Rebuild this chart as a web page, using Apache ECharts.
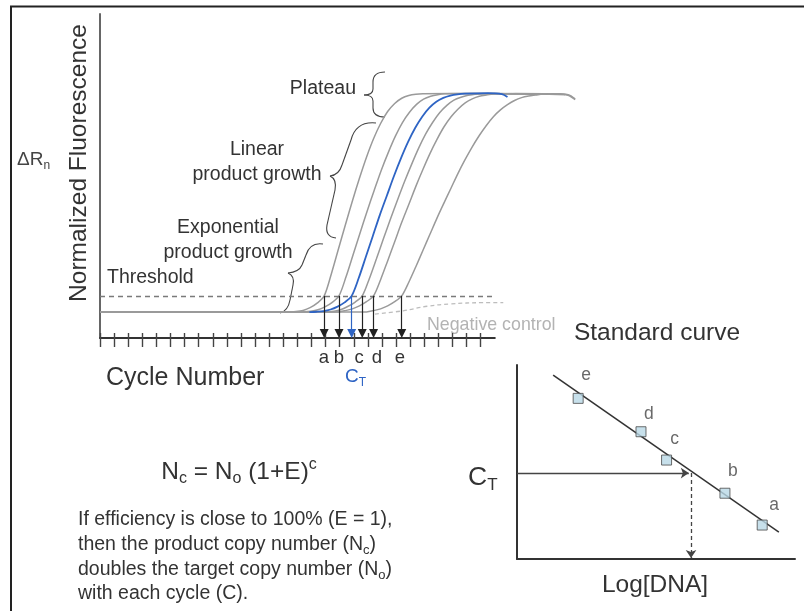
<!DOCTYPE html>
<html>
<head>
<meta charset="utf-8">
<script src="https://cdn.jsdelivr.net/npm/echarts@6/dist/echarts.min.js"></script>
<style>
  html, body { margin: 0; padding: 0; background: #fff; }
  #chart { width: 804px; height: 611px; }
</style>
</head>
<body>
<div id="chart"></div>
<script>
// ---------- amplification plot data (cycle number, normalized fluorescence ΔRn) ----------
const curveA = [[0,8],[12.9,8],[13.4,8.05],[13.9,8.15],[14.4,8.5],[14.9,9.35],[15.4,10.75],[15.9,13],[16.4,19.7],[16.9,27.3],[17.4,34.9],[17.9,42.3],[18.4,49.3],[18.9,55.8],[19.4,61.5],[19.9,66.2],[20.4,69.9],[20.9,72.4],[21.4,74],[21.9,74.85],[22.4,75.25],[22.9,75.4],[25,75.5],[28,75.4],[31,75.2]];
const curveB = [[0,8],[13.95,8],[14.45,8.07],[14.95,8.26],[15.45,8.7],[15.95,9.6],[16.45,10.9],[16.95,13],[17.45,18.9],[17.95,25.7],[18.45,32.5],[18.95,39.2],[19.45,45.6],[19.95,51.8],[20.45,57.3],[20.95,62.3],[21.45,66.5],[21.95,69.7],[22.45,72.1],[22.95,73.7],[23.45,74.6],[23.95,75.1],[24.45,75.35],[26.5,75.5],[29,75.4],[32,75.2]];
const curveCt = [[14.85,8],[15.35,8.1],[15.85,8.3],[16.35,8.8],[16.85,9.7],[17.35,11],[17.85,13],[18.35,18.5],[18.85,25],[19.35,31.5],[19.85,38],[20.35,44],[20.85,50],[21.35,55.5],[21.85,60.5],[22.35,64.8],[22.85,68.3],[23.35,71],[23.85,72.9],[24.35,74.1],[24.85,74.8],[25.35,75.2],[25.85,75.4],[27.5,75.6],[28.5,75.3],[28.9,74.4]];
const curveC = [[0,8],[15.6,8],[16.1,8.05],[16.6,8.25],[17.1,8.8],[17.6,9.8],[18.1,11.1],[18.6,13],[19.1,18.3],[19.6,24.4],[20.1,30.6],[20.6,36.7],[21.1,42.6],[21.6,48.3],[22.1,53.6],[22.6,58.6],[23.1,63],[23.6,66.6],[24.1,69.6],[24.6,71.8],[25.1,73.4],[25.6,74.3],[26.1,74.9],[26.6,75.25],[28,75.5],[30,75.4],[33,75.1]];
const curveD = [[0,8],[16.4,8],[16.9,8.05],[17.4,8.45],[17.9,9],[18.4,9.9],[18.9,11.2],[19.4,13],[19.9,18],[20.4,23.8],[20.9,29.7],[21.4,35.7],[21.9,41.2],[22.4,46.8],[22.9,52],[23.4,56.9],[23.9,61.3],[24.4,65.2],[24.9,68.3],[25.4,70.7],[25.9,72.6],[26.4,73.8],[26.9,74.6],[27.4,75],[27.9,75.3],[29.5,75.5],[32,75.4],[33.2,75.1],[33.7,73.8]];
const curveE = [[0,8],[18.4,8],[18.9,8.05],[19.4,8.45],[19.9,9],[20.4,9.9],[20.9,11.2],[21.4,13],[21.9,17.2],[22.4,22],[22.9,27],[23.4,32],[23.9,37],[24.4,41.7],[24.9,46.3],[25.4,50.9],[25.9,55.1],[26.4,59],[26.9,62.5],[27.4,65.6],[27.9,68.3],[28.4,70.4],[28.9,72],[29.4,73.3],[29.9,74.2],[30.4,74.7],[30.9,75],[31.4,75.3],[32.6,75.4],[33.2,74.9],[33.7,73.6]];
const negativeControl = [[19.5,7.4],[21.5,8.4],[23.2,9.8],[24.8,10.5],[27.2,10.9],[28.6,10.9]];

const threshold = 13;
const thresholdEnd = 27.8;
const ctNames = ['a', 'b', 'c', 'd', 'e'];
const ctCycles = [15.9, 16.95, 18.6, 19.4, 21.4];
const ctBlue = 17.85;
const arrowTip = 1.4;
const cycleTicks = [0,1,2,3,4,5,6,7,8,9,10,11,12,13,14,15,16,17,18,19,20,21,22,23,24,25,26,27];

// ---------- standard curve data (Log[DNA], CT) ----------
const stdNames = ['a', 'b', 'c', 'd', 'e'];
const stdLogDna = [8.82, 7.48, 5.38, 4.46, 2.2];
const stdCt = [1.75, 3.39, 5.1, 6.56, 8.28];
const stdFit = [[1.3, 9.48], [9.42, 1.39]];
const unknownCt = 4.43;
const unknownLogDna = 6.26;

// ---------- styling ----------
const FONT = '"Liberation Sans", Arial, Helvetica, sans-serif';
const GRAY = '#9a9a9a';
const BLUE = '#2e64c4';
const PX_PER_CYCLE = 14.1;
const labelOffsets = { a: [12, 0], b: [8, -3], c: [8, -1], d: [8, 2], e: [8, -4] };

function grayCurve(data) {
  return {
    type: 'line', xAxisIndex: 0, yAxisIndex: 0, data: data,
    smooth: 0.3, showSymbol: false, silent: true,
    lineStyle: { color: GRAY, width: 1.5 }, z: 3
  };
}

// Curly brace outline built from "M x,y Q cx,cy x,y L x,y ..." commands,
// drawn with quadratic bezier and straight line graphic elements.
function brace(cmd) {
  const tok = cmd.replace(/([MLQ])/g, ' $1 ').replace(/,/g, ' ').trim().split(/\s+/);
  const parts = [];
  let i = 0, cx = 0, cy = 0;
  const stroke = { stroke: '#444', lineWidth: 1.1, fill: null };
  while (i < tok.length) {
    const c = tok[i++];
    if (c === 'M') { cx = +tok[i++]; cy = +tok[i++]; }
    else if (c === 'L') {
      const x = +tok[i++], y = +tok[i++];
      parts.push({ type: 'line', silent: true, shape: { x1: cx, y1: cy, x2: x, y2: y }, style: stroke });
      cx = x; cy = y;
    } else if (c === 'Q') {
      const qx = +tok[i++], qy = +tok[i++], x = +tok[i++], y = +tok[i++];
      parts.push({ type: 'bezierCurve', silent: true,
        shape: { x1: cx, y1: cy, cpx1: qx, cpy1: qy, x2: x, y2: y }, style: stroke });
      cx = x; cy = y;
    }
  }
  return parts;
}

const arrowPairs = ctCycles.map(function (c) {
  return [{ coord: [c, threshold] }, { coord: [c, arrowTip] }];
});
arrowPairs.push([
  { coord: [ctBlue, threshold], lineStyle: { color: BLUE } },
  { coord: [ctBlue, arrowTip], itemStyle: { color: BLUE }, lineStyle: { color: BLUE } }
]);

const chart = echarts.init(document.getElementById('chart'), null, { renderer: 'canvas' });

const txt = function (text, x, y, size, opts) {
  opts = opts || {};
  return {
    type: 'text', x: x, y: y, silent: true, rotation: opts.rotation || 0,
    style: Object.assign({
      text: text, fontSize: size, fontFamily: FONT, fill: opts.fill || '#333',
      align: opts.align || 'left', verticalAlign: 'middle'
    }, opts.style || {})
  };
};

// rich-text pieces: normal, subscript, superscript
function richStyle(size, color, lh) {
  return {
    n: { fontSize: size, fontFamily: FONT, fill: color, lineHeight: lh },
    s: { fontSize: Math.round(size * 0.65), fontFamily: FONT, fill: color, lineHeight: Math.round(lh * 0.38), verticalAlign: 'bottom' },
    p: { fontSize: Math.round(size * 0.65), fontFamily: FONT, fill: color, lineHeight: Math.round(lh * 0.38), verticalAlign: 'top' }
  };
}

const graphics = [
  // frame
  { type: 'line', silent: true, shape: { x1: 10, y1: 6.5, x2: 804, y2: 6.5 }, style: { stroke: '#222', lineWidth: 2 } },
  { type: 'line', silent: true, shape: { x1: 11, y1: 6, x2: 11, y2: 611 }, style: { stroke: '#222', lineWidth: 2 } }
].concat(
  brace('M385,72 Q373,72 373,82 L373,89 Q373,95 364,95 Q373,95 373,101 L373,108 Q373,117 385,117'),
  brace('M376,123 Q356,121 351,140 L342,165 Q339,175 330,176 Q337,179 335,190 L327,225 Q325,237 336,238'),
  brace('M323,244 Q310,242 306,255 L302,265 Q299,272 288,273 Q295,276 293,285 L290,300 Q288,311 280,313'),
  [
    // amplification plot texts
    txt('Normalized Fluorescence', 79, 163, 24.5, { rotation: Math.PI / 2, align: 'center' }),
    txt('{n|ΔR}{s|n}', 17, 160, 19, { style: { rich: richStyle(19, '#444', 24) } }),
    txt('Plateau', 356, 89, 19.5, { align: 'right' }),
    txt('Linear', 257, 150, 19.5, { align: 'center' }),
    txt('product growth', 257, 175, 19.5, { align: 'center' }),
    txt('Exponential', 228, 228, 19.5, { align: 'center' }),
    txt('product growth', 228, 253, 19.5, { align: 'center' }),
    txt('Threshold', 107, 278, 19.5),
    txt('Negative control', 427, 325, 17.8, { fill: '#b3b3b3' }),
    txt('Cycle Number', 106, 378, 25),
    txt('a', 324, 358, 18.5, { align: 'center' }),
    txt('b', 339, 358, 18.5, { align: 'center' }),
    txt('c', 359, 358, 18.5, { align: 'center' }),
    txt('d', 377, 358, 18.5, { align: 'center' }),
    txt('e', 400, 358, 18.5, { align: 'center' }),
    txt('{n|C}{s|T}', 345, 377, 19, { style: { rich: richStyle(19, BLUE, 24) } }),

    // formula and explanation
    txt('{n|N}{s|c}{n| = N}{s|o}{n| (1+E)}{p|c}', 239, 472, 24.5, { align: 'center', style: { rich: richStyle(24.5, '#333', 30) } }),
    txt('If efficiency is close to 100% (E = 1),', 78, 520, 19.5),
    txt('{n|then the product copy number (N}{s|c}{n|)}', 78, 545, 19.5, { style: { rich: richStyle(19.5, '#333', 24) } }),
    txt('{n|doubles the target copy number (N}{s|o}{n|)}', 78, 570, 19.5, { style: { rich: richStyle(19.5, '#333', 24) } }),
    txt('with each cycle (C).', 78, 594, 19.5),

    // standard curve texts
    txt('Standard curve', 657, 333, 24.5, { align: 'center' }),
    txt('{n|C}{s|T}', 468, 478, 26.5, { style: { rich: richStyle(26.5, '#333', 32) } }),
    txt('Log[DNA]', 655, 585, 24.5, { align: 'center' })
  ]
);

chart.setOption({
  animation: false,
  backgroundColor: '#fff',
  grid: [
    { left: 100, top: 14, height: 324, width: 34 * PX_PER_CYCLE },
    { left: 100, top: 14, height: 324, width: 28 * PX_PER_CYCLE },
    { left: 100, top: 14, height: 324, width: 28 * PX_PER_CYCLE },
    { left: 517, top: 365, width: 278, height: 194 }
  ],
  xAxis: [
    { gridIndex: 0, type: 'value', min: 0, max: 34, show: false },
    { gridIndex: 1, type: 'value', min: 0, max: 28, interval: 1,
      axisLine: { show: true, lineStyle: { color: '#333', width: 2 } },
      axisTick: { show: true, length: 9, customValues: cycleTicks, lineStyle: { color: '#444', width: 1.4 } },
      axisLabel: { show: false }, splitLine: { show: false } },
    { gridIndex: 2, type: 'value', min: 0, max: 28, interval: 1,
      axisLine: { show: false },
      axisTick: { show: true, inside: true, length: 5, customValues: cycleTicks, lineStyle: { color: '#444', width: 1.4 } },
      axisLabel: { show: false }, splitLine: { show: false } },
    { gridIndex: 3, type: 'value', min: 0, max: 10,
      axisLine: { show: true, lineStyle: { color: '#333', width: 2 } },
      axisTick: { show: false }, axisLabel: { show: false }, splitLine: { show: false } }
  ],
  yAxis: [
    { gridIndex: 0, type: 'value', min: 0, max: 100,
      axisLine: { show: true, lineStyle: { color: '#666', width: 2 } },
      axisTick: { show: false }, axisLabel: { show: false }, splitLine: { show: false } },
    { gridIndex: 1, type: 'value', min: 0, max: 100, show: false },
    { gridIndex: 2, type: 'value', min: 0, max: 100, show: false },
    { gridIndex: 3, type: 'value', min: 0, max: 10,
      axisLine: { show: true, lineStyle: { color: '#333', width: 2 } },
      axisTick: { show: false }, axisLabel: { show: false }, splitLine: { show: false } }
  ],
  series: [
    // threshold line
    {
      type: 'line', xAxisIndex: 0, yAxisIndex: 0, data: [[0, threshold]], showSymbol: false,
      lineStyle: { opacity: 0 }, silent: true,
      markLine: {
        silent: true, symbol: ['none', 'none'], label: { show: false },
        lineStyle: { color: '#7a7a7a', width: 1.3, type: [5, 4] },
        data: [[{ coord: [0, threshold] }, { coord: [thresholdEnd, threshold] }]]
      }
    },
    // negative control
    {
      type: 'line', xAxisIndex: 0, yAxisIndex: 0, data: negativeControl,
      smooth: 0.4, showSymbol: false, silent: true,
      lineStyle: { color: '#bdbdbd', width: 1.3, type: [4, 3] }
    },
    grayCurve(curveA),
    grayCurve(curveB),
    grayCurve(curveC),
    grayCurve(curveD),
    grayCurve(curveE),
    {
      type: 'line', xAxisIndex: 0, yAxisIndex: 0, data: curveCt,
      smooth: 0.3, showSymbol: false, silent: true,
      lineStyle: { color: BLUE, width: 1.8 }, z: 4
    },
    // CT arrows from the threshold down to the cycle axis
    {
      type: 'line', xAxisIndex: 0, yAxisIndex: 0, data: [[0, threshold]], showSymbol: false,
      lineStyle: { opacity: 0 }, silent: true, z: 5,
      markLine: {
        silent: true, symbol: ['none', 'triangle'], symbolSize: 9,
        label: { show: false },
        lineStyle: { color: '#222', width: 1.2, type: 'solid' },
        itemStyle: { color: '#222' },
        data: arrowPairs
      }
    },
    // standard curve: fitted line + unknown sample arrows
    {
      type: 'line', xAxisIndex: 3, yAxisIndex: 3, data: stdFit, showSymbol: false, silent: true,
      lineStyle: { color: '#333', width: 1.5 },
      markLine: {
        silent: true, symbol: ['none', 'arrow'], symbolSize: 8, label: { show: false },
        lineStyle: { color: '#444', width: 1.3, type: 'solid' }, itemStyle: { color: '#444' },
        data: [
          [{ coord: [0, unknownCt] }, { coord: [unknownLogDna - 0.08, unknownCt] }],
          [{ coord: [unknownLogDna, unknownCt], lineStyle: { type: [4, 3] } },
           { coord: [unknownLogDna, 0.05], lineStyle: { type: [4, 3] } }]
        ]
      }
    },
    {
      type: 'scatter', xAxisIndex: 3, yAxisIndex: 3, silent: true, z: 6,
      symbol: 'rect', symbolSize: 10,
      itemStyle: { color: '#b9d8e6', borderColor: '#4a4a4a', borderWidth: 1 },
      data: stdNames.map(function (n, i) {
        return { name: n, value: [stdLogDna[i], stdCt[i]],
                 label: { offset: labelOffsets[n] } };
      }),
      label: {
        show: true, position: 'top', formatter: '{b}',
        fontFamily: FONT, fontSize: 17.5, color: '#444'
      }
    }
  ],
  graphic: graphics
});
</script>
</body>
</html>
